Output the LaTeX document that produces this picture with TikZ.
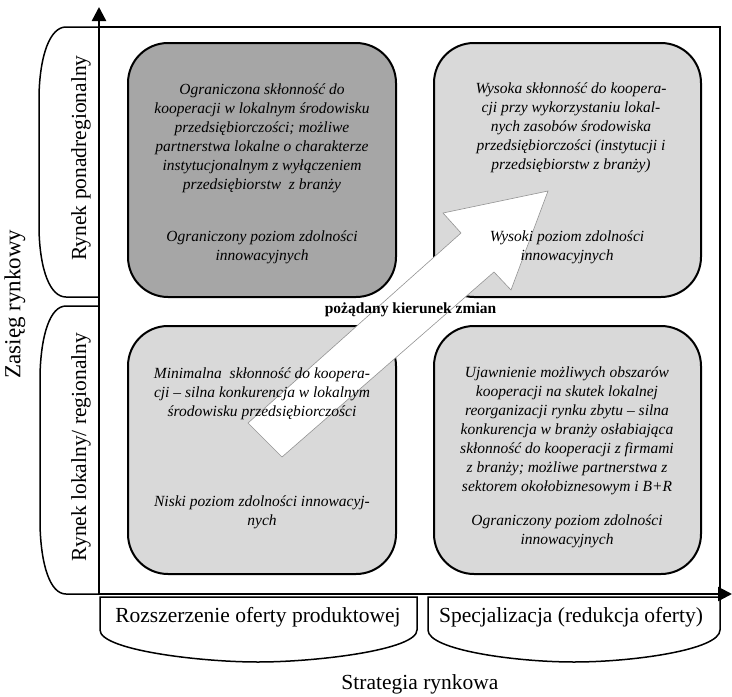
\documentclass[tikz,border=0pt]{standalone}
\usepackage{fontspec}
\setmainfont{Liberation Serif}
\usetikzlibrary{arrows.meta}
\definecolor{cellDark}{HTML}{A6A6A6}
\definecolor{cellLight}{HTML}{D9D9D9}
\begin{document}
\begin{tikzpicture}[x=1pt,y=-1pt,
  cell/.style={draw=black, line width=2pt, rounded corners=40pt, inner sep=0pt},
  celltext/.style={font=\fontsize{15.5}{19}\selectfont\itshape, align=center, inner sep=0pt},
  axislabel/.style={font=\fontsize{21.5}{24}\selectfont, inner sep=0pt},
  bracket/.style={draw=black, line width=1.5pt, fill=white},
  axisline/.style={line width=2.4pt, -{Triangle[length=14pt,width=14pt]}},
]
\useasboundingbox (0,0) rectangle (732,697);

% outer frame (top and right sides)
\draw[line width=1.5pt] (99,27) -- (720,27) -- (720,594);

% brackets along the vertical axis
\draw[bracket] (99,27) -- (66,27) .. controls (50,27) and (40,55) .. (39,95)
  -- (39,230) .. controls (40,270) and (50,297) .. (66,297) -- (99,297);
\draw[bracket] (99,306) -- (66,306) .. controls (50,306) and (41,335) .. (40,375)
  -- (40,525) .. controls (41,565) and (50,594) .. (66,594) -- (99,594);

% brackets along the horizontal axis
\draw[bracket] (100,597) -- (100,630) .. controls (100,650) and (200,662) .. (258,662)
  .. controls (316,662) and (417,650) .. (417,630) -- (417,597) -- cycle;
\draw[bracket] (428,597) -- (428,630) .. controls (428,650) and (516,662) .. (574,662)
  .. controls (632,662) and (720,650) .. (720,630) -- (720,597) -- cycle;

% the four cells of the matrix
\node[cell, fill=cellDark,  minimum width=268pt, minimum height=254pt] (tl) at (262,170) {};
\node[cell, fill=cellLight, minimum width=267pt, minimum height=254pt] (tr) at (567.5,170) {};
\node[cell, fill=cellLight, minimum width=268pt, minimum height=248pt] (bl) at (262,450) {};
\node[cell, fill=cellLight, minimum width=267pt, minimum height=248pt] (br) at (567.5,450) {};

% block arrow: desired direction of change
\draw[draw=gray!85, line width=0.6pt, fill=white]
  (248,423) -- (461,233) -- (443,213) -- (548,191) -- (511,290) -- (494,272) -- (282,457) -- cycle;

% cell texts
\node[celltext] (tla) at (262,138) {Ograniczona skłonność do\\kooperacji w lokalnym środowisku\\przedsiębiorczości; możliwe\\partnerstwa lokalne o charakterze\\instytucjonalnym z wyłączeniem\\przedsiębiorstw\ \ z branży};
\node[celltext] (tlb) at (262,247.5) {Ograniczony poziom zdolności\\innowacyjnych};

\node[celltext] (tra) at (571,127.5) {Wysoka skłonność do koopera-\\cji przy wykorzystaniu lokal-\\nych zasobów środowiska\\przedsiębiorczości (instytucji i\\przedsiębiorstw z branży)};
\node[celltext] (trb) at (567,247.5) {Wysoki poziom zdolności\\innowacyjnych};

\node[celltext] (bla) at (262,394) {Minimalna\ \ skłonność do koopera-\\cji – silna konkurencja w lokalnym\\środowisku przedsiębiorczości};
\node[celltext] (blb) at (262,512.5) {Niski poziom zdolności innowacyj-\\nych};

\node[celltext] (bra) at (567,430.5) {Ujawnienie możliwych obszarów\\kooperacji na skutek lokalnej\\reorganizacji rynku zbytu – silna\\konkurencja w branży osłabiająca\\skłonność do kooperacji z firmami\\z branży; możliwe partnerstwa z\\sektorem okołobiznesowym i B+R};
\node[celltext] (brb) at (567,531) {Ograniczony poziom zdolności\\innowacyjnych};

\node[font=\fontsize{15.5}{19}\selectfont\bfseries, inner sep=0pt] (dir) at (410.5,310) {pożądany kierunek zmian};

% axis labels
\node[axislabel, font=\fontsize{23}{26}\selectfont, rotate=90] (zr) at (15,304) {Zasięg rynkowy};
\node[axislabel, rotate=90] (rp) at (81,158) {Rynek ponadregionalny};
\node[axislabel, rotate=90] (rl) at (81,447) {Rynek lokalny/ regionalny};
\node[axislabel] (ro) at (258,617) {Rozszerzenie oferty produktowej};
\node[axislabel] (sp) at (571,617) {Specjalizacja (redukcja oferty)};
\node[axislabel] (sr) at (420,684) {Strategia rynkowa};

% axes
\coordinate (origin) at (99,594);
\coordinate (ytip) at (99,7);
\coordinate (xtip) at (732,594);
\draw[axisline] (origin) -- (ytip);
\draw[axisline] (origin) -- (xtip);
\end{tikzpicture}
\end{document}
